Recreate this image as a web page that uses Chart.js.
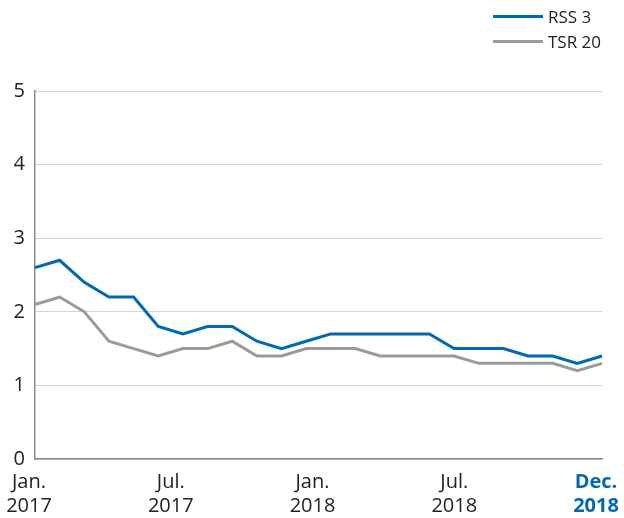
<!DOCTYPE html>
<html>
<head>
<meta charset="utf-8">
<script src="https://cdn.jsdelivr.net/npm/chart.js@4.4.1/dist/chart.umd.min.js"></script>
<style>
  html, body { margin: 0; padding: 0; background: #fff; }
  #wrap { position: relative; width: 624px; height: 518px; }
  #legend { position: absolute; left: 493px; top: 4px; font-family: "Open Sans", sans-serif; font-size: 17px; color: #222; }
  .item { position: relative; height: 25px; line-height: 25px; }
  .swatch { position: absolute; left: 0; top: 11px; width: 50px; height: 3px; }
  .lbl { position: absolute; left: 55px; top: 0; white-space: nowrap; }
</style>
</head>
<body>
<div id="wrap">
  <canvas id="c" width="624" height="518"></canvas>
  <div id="legend"></div>
</div>
<script>
const months = ["Jan 2017","Feb 2017","Mar 2017","Apr 2017","May 2017","Jun 2017","Jul 2017","Aug 2017","Sep 2017","Oct 2017","Nov 2017","Dec 2017",
                "Jan 2018","Feb 2018","Mar 2018","Apr 2018","May 2018","Jun 2018","Jul 2018","Aug 2018","Sep 2018","Oct 2018","Nov 2018","Dec 2018"];
const rss3  = [2.6,2.7,2.4,2.2,2.2,1.8,1.7,1.8,1.8,1.6,1.5,1.6,1.7,1.7,1.7,1.7,1.7,1.5,1.5,1.5,1.4,1.4,1.3,1.4];
const tsr20 = [2.1,2.2,2.0,1.6,1.5,1.4,1.5,1.5,1.6,1.4,1.4,1.5,1.5,1.5,1.4,1.4,1.4,1.4,1.3,1.3,1.3,1.3,1.2,1.3];
const seriesNames = ["RSS 3","TSR 20"];
const xTickLabels = [["Jan.","2017"],["Jul.","2017"],["Jan.","2018"],["Jul.","2018"],["Dec.","2018"]];
const yTicks = [0,1,2,3,4,5];

const BLUE = "#0069b4";
const GRAY = "#9b9b9b";
const FONT = "'Open Sans', sans-serif";

const chart = new Chart(document.getElementById("c"), {
  type: "line",
  data: {
    labels: months,
    datasets: [
      { label: seriesNames[0], data: rss3, borderColor: BLUE, backgroundColor: BLUE, borderWidth: 3, pointRadius: 0, tension: 0, xAxisID: "x", yAxisID: "y" },
      { label: seriesNames[1], data: tsr20, borderColor: GRAY, backgroundColor: GRAY, borderWidth: 3, pointRadius: 0, tension: 0, xAxisID: "x", yAxisID: "y" }
    ]
  },
  options: {
    responsive: false,
    animation: false,
    devicePixelRatio: 1,
    layout: { padding: { top: 91, right: 22, bottom: 0, left: 0 } },
    plugins: { legend: { display: false }, tooltip: { enabled: false } },
    scales: {
      x: { type: "category", display: false, offset: false },
      x2: {
        type: "linear", position: "bottom", min: 0, max: xTickLabels.length - 1,
        afterBuildTicks: (s) => { s.ticks = xTickLabels.map((_, i) => ({ value: i })); },
        afterFit: (s) => { s.height = 59; s.paddingLeft = 0; s.paddingRight = 0; },
        grid: { display: false, drawTicks: false },
        border: { display: true, color: "#8c8c8c", width: 1.5 },
        ticks: {
          autoSkip: false, maxRotation: 0, minRotation: 0, padding: 11, labelOffset: -6,
          callback: (v) => xTickLabels[Math.round(v)],
          color: (ctx) => ctx.index === xTickLabels.length - 1 ? BLUE : "#222",
          font: (ctx) => ({ family: FONT, size: 20, lineHeight: 1.22, weight: ctx.index === xTickLabels.length - 1 ? "bold" : "normal" })
        }
      },
      y: {
        type: "linear", position: "left", min: yTicks[0], max: yTicks[yTicks.length - 1],
        afterBuildTicks: (s) => { s.ticks = yTicks.map(v => ({ value: v })); },
        afterFit: (s) => { s.width = 35; s.paddingTop = 0; s.paddingBottom = 0; },
        grid: { color: "#d2d2d2", lineWidth: 1, drawTicks: false },
        border: { display: true, color: "#8c8c8c", width: 1.5 },
        ticks: { padding: 10, color: "#222", font: { family: FONT, size: 20 } }
      }
    }
  }
});

const legend = document.getElementById("legend");
chart.data.datasets.forEach(ds => {
  const item = document.createElement("div");
  item.className = "item";
  const sw = document.createElement("span");
  sw.className = "swatch";
  sw.style.background = ds.borderColor;
  const lb = document.createElement("span");
  lb.className = "lbl";
  lb.textContent = ds.label;
  item.appendChild(sw); item.appendChild(lb);
  legend.appendChild(item);
});
</script>
</body>
</html>
